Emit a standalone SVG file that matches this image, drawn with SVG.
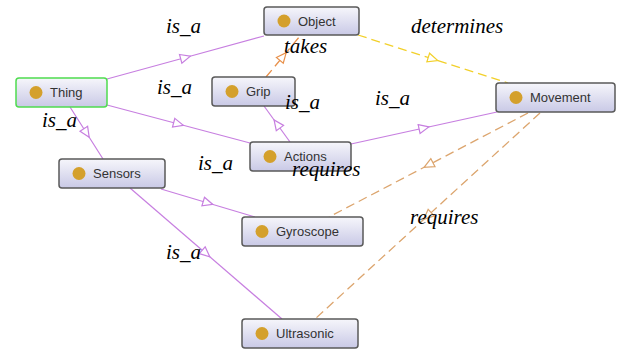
<svg xmlns="http://www.w3.org/2000/svg" width="621" height="352" viewBox="0 0 621 352">
<defs>
<linearGradient id="nodeFill" x1="0" y1="0" x2="0" y2="1">
<stop offset="0" stop-color="#f6f6fb"/>
<stop offset="1" stop-color="#c9c9e6"/>
</linearGradient>
<marker id="triP" viewBox="0 0 12 12" refX="6" refY="6" markerWidth="12" markerHeight="12" markerUnits="userSpaceOnUse" orient="auto">
<path d="M1,1.5 L11,6 L1,10.5 z" fill="#fff" stroke="#c77fe0" stroke-width="1.2"/>
</marker>
<marker id="triO" viewBox="0 0 12 12" refX="6" refY="6" markerWidth="12" markerHeight="12" markerUnits="userSpaceOnUse" orient="auto">
<path d="M1,1.5 L11,6 L1,10.5 z" fill="#fff" stroke="#e8904a" stroke-width="1.2"/>
</marker>
<marker id="triT" viewBox="0 0 12 12" refX="6" refY="6" markerWidth="12" markerHeight="12" markerUnits="userSpaceOnUse" orient="auto">
<path d="M1,1.5 L11,6 L1,10.5 z" fill="#fff" stroke="#dca56e" stroke-width="1.2"/>
</marker>
<marker id="triY" viewBox="0 0 12 12" refX="6" refY="6" markerWidth="12" markerHeight="12" markerUnits="userSpaceOnUse" orient="auto">
<path d="M1,1.5 L11,6 L1,10.5 z" fill="#fff" stroke="#f2d02a" stroke-width="1.2"/>
</marker>
</defs>
<style>
.box{fill:url(#nodeFill);stroke:#5a5a5a;stroke-width:1.5}
.thing{stroke:#4fdc4f}
.dot{fill:#d4a02c}
.nt{font-family:"Liberation Sans",Arial,sans-serif;font-size:13px;fill:#333}
.isa{fill:none;stroke:#c77fe0;stroke-width:1.2;marker-mid:url(#triP)}
.takes{fill:none;stroke:#e8904a;stroke-width:1.3;stroke-dasharray:9 5;marker-mid:url(#triO)}
.req{fill:none;stroke:#dca56e;stroke-width:1.3;stroke-dasharray:9 5;marker-mid:url(#triT)}
.det{fill:none;stroke:#f2d02a;stroke-width:1.3;stroke-dasharray:9 5;marker-mid:url(#triY)}
.lbl{font-family:"Liberation Serif","Times New Roman",serif;font-style:italic;font-size:21px;fill:#000}
</style>
<rect width="621" height="352" fill="#fff"/>
<g id="connectors">
<polyline class="isa" points="107,79 185.5,57.5 264,36"/>
<polyline class="isa" points="107,105 178.5,124 250,143"/>
<polyline class="isa" points="70,107 86.5,133 103,159"/>
<polyline class="isa" points="290,142 277,124 264,106"/>
<polyline class="isa" points="351,144 424,128 497,112"/>
<polyline class="isa" points="161,189 208,203 255,217"/>
<polyline class="isa" points="130,188 206,253.5 282,319"/>
<polyline class="takes" points="266,77 283,56.5 300,36"/>
<polyline class="det" points="358,35 433,59 508,83"/>
<polyline class="req" points="528,113 428.5,165 329,217"/>
<polyline class="req" points="540,113 427.5,216 315,319"/>
</g>
<g id="node-object">
<rect class="box" x="264" y="7" width="95" height="28" rx="3"/>
<circle class="dot" cx="284" cy="21" r="6.5"/>
<text class="nt" x="298" y="25.5">Object</text>
</g>
<g id="node-thing">
<rect class="box thing" x="16" y="78" width="91" height="29" rx="3"/>
<circle class="dot" cx="36" cy="92.5" r="6.5"/>
<text class="nt" x="50" y="97">Thing</text>
</g>
<g id="node-grip">
<rect class="box" x="212" y="77" width="83" height="29" rx="3"/>
<circle class="dot" cx="232" cy="91.5" r="6.5"/>
<text class="nt" x="246" y="96">Grip</text>
</g>
<g id="node-movement">
<rect class="box" x="496" y="83" width="119" height="29" rx="3"/>
<circle class="dot" cx="516" cy="97.5" r="6.5"/>
<text class="nt" x="530" y="102">Movement</text>
</g>
<g id="node-actions">
<rect class="box" x="250" y="142" width="101" height="29" rx="3"/>
<circle class="dot" cx="270" cy="156.5" r="6.5"/>
<text class="nt" x="284" y="161">Actions</text>
</g>
<g id="node-sensors">
<rect class="box" x="59" y="159" width="106" height="29" rx="3"/>
<circle class="dot" cx="79" cy="173.5" r="6.5"/>
<text class="nt" x="93" y="178">Sensors</text>
</g>
<g id="node-gyroscope">
<rect class="box" x="242" y="217" width="121" height="29" rx="3"/>
<circle class="dot" cx="262" cy="231.5" r="6.5"/>
<text class="nt" x="276" y="236">Gyroscope</text>
</g>
<g id="node-ultrasonic">
<rect class="box" x="242" y="319" width="116" height="29" rx="3"/>
<circle class="dot" cx="262" cy="333.5" r="6.5"/>
<text class="nt" x="276" y="338">Ultrasonic</text>
</g>
<g id="labels">
<text class="lbl" x="166" y="33">is_a</text>
<text class="lbl" x="157" y="94">is_a</text>
<text class="lbl" x="42" y="127">is_a</text>
<text class="lbl" x="198" y="170">is_a</text>
<text class="lbl" x="285" y="109">is_a</text>
<text class="lbl" x="375" y="105">is_a</text>
<text class="lbl" x="166" y="259">is_a</text>
<text class="lbl" x="284" y="53">takes</text>
<text class="lbl" x="411" y="33">determines</text>
<text class="lbl" x="292" y="176">requires</text>
<text class="lbl" x="410" y="224">requires</text>
</g>
</svg>
